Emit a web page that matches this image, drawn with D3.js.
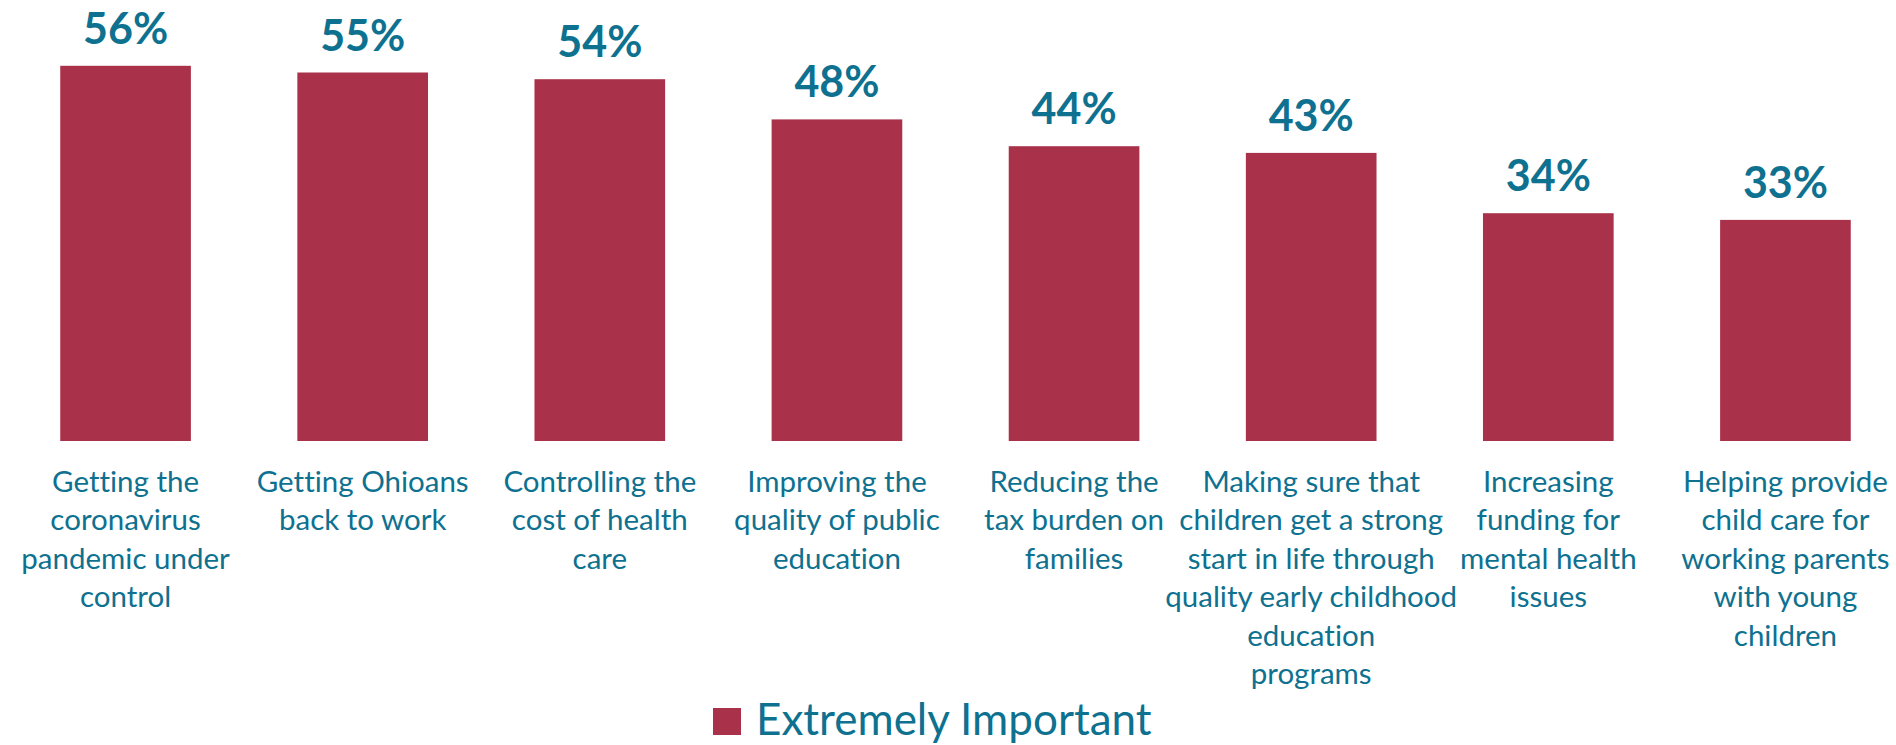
<!DOCTYPE html>
<html>
<head>
<meta charset="utf-8">
<script src="https://cdn.jsdelivr.net/npm/d3@7"></script>
<style>
  html, body { margin: 0; padding: 0; background: #fff; }
  svg { display: block; }
  text { font-variant-ligatures: none; }
</style>
</head>
<body>
<svg id="chart" width="1896" height="745"></svg>
<script>
// data
const categories = [
  "Getting the coronavirus pandemic under control",
  "Getting Ohioans back to work",
  "Controlling the cost of health care",
  "Improving the quality of public education",
  "Reducing the tax burden on families",
  "Making sure that children get a strong start in life through quality early childhood education programs",
  "Increasing funding for mental health issues",
  "Helping provide child care for working parents with young children"
];
// line breaks as they appear under each bar
const categoryLines = [
  ["Getting the", "coronavirus", "pandemic under", "control"],
  ["Getting Ohioans", "back to work"],
  ["Controlling the", "cost of health", "care"],
  ["Improving the", "quality of public", "education"],
  ["Reducing the", "tax burden on", "families"],
  ["Making sure that", "children get a strong", "start in life through", "quality early childhood", "education", "programs"],
  ["Increasing", "funding for", "mental health", "issues"],
  ["Helping provide", "child care for", "working parents", "with young", "children"]
];
const values = [56, 55, 54, 48, 44, 43, 34, 33];
const seriesName = "Extremely Important";

const barColor = "#a9324a";
const textColor = "#0e7190";

const svg = d3.select("#chart");

const x = d3.scaleBand()
  .domain(categories)
  .range([7, 1904])
  .paddingInner(0.449)
  .paddingOuter(0.2245);

const y = d3.scaleLinear()
  .domain([0, 60])
  .range([441, 39]);

// bars
svg.append("g")
  .selectAll("rect")
  .data(values)
  .join("rect")
  .attr("x", (d, i) => x(categories[i]))
  .attr("y", d => y(d))
  .attr("width", x.bandwidth())
  .attr("height", d => y(0) - y(d))
  .attr("fill", barColor);

// value labels
svg.append("g")
  .selectAll("text")
  .data(values)
  .join("text")
  .attr("x", (d, i) => x(categories[i]) + x.bandwidth() / 2)
  .attr("y", d => y(d) - 22)
  .attr("text-anchor", "middle")
  .attr("font-family", "Lato, 'Open Sans', sans-serif")
  .attr("font-weight", "bold")
  .attr("font-size", 43)
  .attr("fill", textColor)
  .text(d => d + "%");

// category labels (no axis line in the reference)
const lineHeight = 38.4;
const cats = svg.append("g")
  .selectAll("text")
  .data(categories)
  .join("text")
  .attr("text-anchor", "middle")
  .attr("font-family", "Lato, 'Open Sans', sans-serif")
  .attr("font-size", 29.5)
  .attr("fill", textColor)
  .attr("transform", d => `translate(${x(d) + x.bandwidth() / 2}, 492)`);

cats.selectAll("tspan")
  .data((d, i) => categoryLines[i])
  .join("tspan")
  .attr("x", 0)
  .attr("y", (d, j) => j * lineHeight)
  .text(d => d);

// legend, kept just inside the bottom edge
const legend = svg.append("g").attr("transform", "translate(713, 708)");
legend.append("rect")
  .attr("width", 28)
  .attr("height", 27)
  .attr("fill", barColor);
legend.append("text")
  .attr("x", 43)
  .attr("y", 27)
  .attr("font-family", "Lato, 'Open Sans', sans-serif")
  .attr("font-size", 44)
  .attr("fill", textColor)
  .text(seriesName);
</script>
</body>
</html>
